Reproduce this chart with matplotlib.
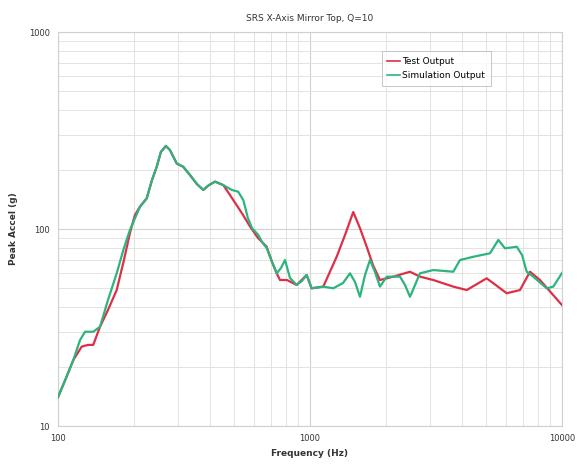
import numpy as np
import matplotlib
matplotlib.use("Agg")
import matplotlib.pyplot as plt
from matplotlib.ticker import FixedLocator, NullFormatter, LogLocator

# Test output (red) - frequency (Hz) / peak accel (g)
test_freq = [100, 107.6, 115, 124.2, 131.5, 138, 146.8, 157.9, 171, 182.7, 193, 202, 211.5,
             224.9, 236, 246.5, 256, 268, 278, 296, 314, 334, 356, 377, 397, 420, 453,
             481, 512, 542, 578, 622, 673, 707, 738, 760, 810, 885, 970, 1015, 1129,
             1276, 1377, 1485, 1579, 1679, 1778, 1895, 2141, 2494, 2733, 3085, 3704,
             4187, 5027, 6035, 6813, 7464, 8178, 10000]
test_g = [14.0, 17.5, 21.6, 25.3, 25.8, 25.8, 31.9, 38.8, 49.0, 69.6, 95.5, 117.8, 129.8,
          143, 177, 207, 246, 264, 252, 215, 207, 188, 169, 158, 167, 174, 167,
          149, 132, 118, 103, 90, 81.3, 68, 59.6, 55.1, 55.1, 52, 58.4, 50, 51,
          72.3, 93.2, 122, 101, 81.3, 65.6, 55.1, 57.3, 60.7, 57.3, 55.1, 51,
          49, 56.2, 47.2, 49, 60.7, 55.1, 41.1]

# Simulation output (green)
sim_freq = [100, 107.6, 115, 122.3, 128, 138, 146.8, 157.9, 171, 182.7, 193, 211.5, 224.9,
            236, 246.5, 256, 268, 278, 296, 314, 334, 356, 377, 397, 420, 453, 489,
            519, 544, 567, 589, 624, 645, 673, 707, 738, 767, 796, 833, 885, 929, 970,
            1015, 1129, 1237, 1352, 1441, 1509, 1579, 1653, 1730, 1811, 1895, 2016,
            2276, 2382, 2494, 2611, 2733, 3085, 3704, 3938, 4446, 5179, 5589, 5940,
            6614, 6940, 7244, 7692, 8693, 9237, 10000]
sim_g = [14.0, 17.5, 21.6, 27.3, 30.1, 30.1, 31.9, 43.6, 59.6, 80.1, 98.9, 129.8, 143,
         177, 207, 246, 264, 252, 215, 207, 188, 169, 158, 167, 174, 167, 158,
         154.6, 140, 113.7, 101, 93.2, 85.9, 80.1, 68, 59.6, 63.4, 69.6, 56.4, 52, 54.5, 58.4,
         50, 51, 50, 53.2, 59.6, 53.8, 45.3, 58.4, 69.6, 60.5, 51, 57.3,
         57.3, 52, 45.3, 52, 59.6, 61.9, 60.7, 69.6, 72.3, 75.3, 88, 79.8,
         81.3, 73.8, 60.7, 57.3, 50, 51, 59.8]

x_ticks = [100, 1000, 10000]
y_ticks = [10, 100, 1000]

fig = plt.figure(figsize=(5.81, 4.68), dpi=100)
ax = fig.add_axes([0.0998, 0.0897, 0.8675, 0.8419])

ax.plot(test_freq, test_g, color="#dc3048", lw=1.6, label="Test Output",
        solid_joinstyle="round", zorder=4)
ax.plot(sim_freq, sim_g, color="#2db47e", lw=1.6, label="Simulation Output",
        solid_joinstyle="round", zorder=5)

ax.set_xscale("log")
ax.set_yscale("log")
ax.set_xlim(100, 10000)
ax.set_ylim(10, 1000)

ax.xaxis.set_major_locator(FixedLocator(x_ticks))
ax.yaxis.set_major_locator(FixedLocator(y_ticks))
ax.set_xticklabels([str(v) for v in x_ticks])
ax.set_yticklabels([str(v) for v in y_ticks])
ax.xaxis.set_minor_locator(LogLocator(base=10, subs=np.arange(2, 10)))
ax.yaxis.set_minor_locator(LogLocator(base=10, subs=np.arange(2, 10)))
ax.xaxis.set_minor_formatter(NullFormatter())
ax.yaxis.set_minor_formatter(NullFormatter())

ax.tick_params(which="both", length=0, labelsize=6, colors="#333333", pad=6)
ax.grid(which="major", color="#d2d2d2", lw=0.8)
ax.grid(which="minor", color="#e2e4dc", lw=0.7)
for s in ax.spines.values():
    s.set_color("#d0d0d0")
    s.set_linewidth(0.8)

ax.set_title("SRS X-Axis Mirror Top, Q=10", fontsize=6.5, color="#333333", pad=8)
ax.set_xlabel("Frequency (Hz)", fontsize=6.5, fontweight="bold", color="#333333", labelpad=4)
ax.set_ylabel("Peak Accel (g)", fontsize=6.5, fontweight="bold", color="#333333", labelpad=8)

leg = ax.legend(loc="upper left", bbox_to_anchor=(0.633, 0.962), fontsize=6.5,
                frameon=True, fancybox=False, handlelength=1.5, handletextpad=0.2,
                borderpad=0.6, labelspacing=0.6)
leg.get_frame().set_edgecolor("#b8b8b8")
leg.get_frame().set_linewidth(0.7)
for line in leg.get_lines():
    line.set_linewidth(1.2)

fig.savefig("out.png", dpi=100)
